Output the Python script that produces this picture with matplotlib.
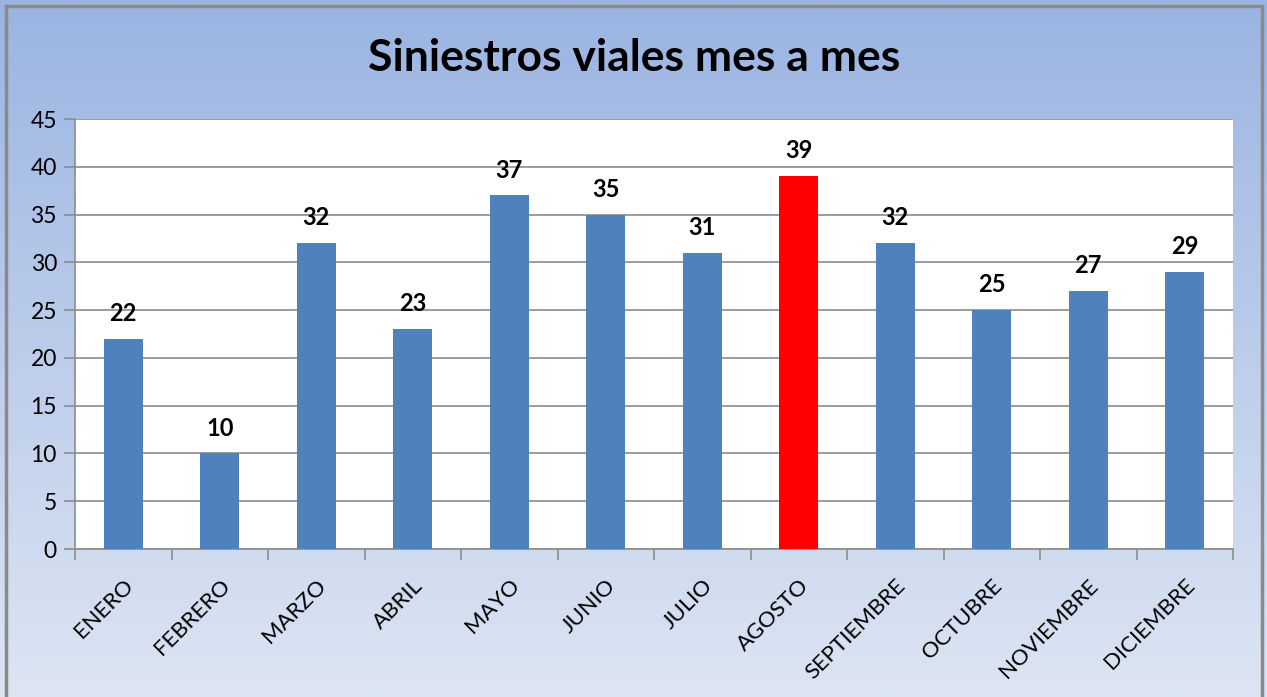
import matplotlib
matplotlib.use("Agg")
import matplotlib.pyplot as plt
import numpy as np
from matplotlib.colors import LinearSegmentedColormap
from matplotlib.patches import Rectangle

# data
meses = ["ENERO", "FEBRERO", "MARZO", "ABRIL", "MAYO", "JUNIO", "JULIO",
         "AGOSTO", "SEPTIEMBRE", "OCTUBRE", "NOVIEMBRE", "DICIEMBRE"]
siniestros = [22, 10, 32, 23, 37, 35, 31, 39, 32, 25, 27, 29]
destacado = "AGOSTO"

plt.rcParams['font.family'] = ['Lato', 'DejaVu Sans']

W, H = 1267, 697
fig = plt.figure(figsize=(W / 100, H / 100), dpi=100)

# background gradient
bg = fig.add_axes([0, 0, 1, 1], zorder=0)
cmap = LinearSegmentedColormap.from_list("bg", ["#9ab4e2", "#dde5f3"])
grad = np.linspace(0, 1, 256).reshape(-1, 1)
bg.imshow(grad, aspect="auto", cmap=cmap, extent=[0, 1, 0, 1], origin="upper")
bg.add_patch(Rectangle((6 / W, -0.01), (1262 - 6) / W, 1 - 6 / H + 0.01,
                       fill=False, edgecolor="#8a8a8a", linewidth=2.5,
                       transform=bg.transAxes))
bg.set_xlim(0, 1)
bg.set_ylim(0, 1)
bg.axis("off")

# plot area
left, right, top, bottom = 75, 1233, 119, 549
ax = fig.add_axes([left / W, 1 - bottom / H, (right - left) / W, (bottom - top) / H], zorder=1)
ax.set_facecolor("white")

x = np.arange(len(meses))
colores = ["#ff0000" if m == destacado else "#4f81bd" for m in meses]
ax.bar(x, siniestros, width=0.4, color=colores, zorder=3)

for xi, v in zip(x, siniestros):
    ax.annotate(str(v), (xi, v), xytext=(0, 10), textcoords="offset points",
                ha="center", va="bottom", fontsize=17, fontweight="bold")

ax.set_xlim(-0.5, len(meses) - 0.5)
ax.set_ylim(0, 45)
ax.set_yticks(range(0, 46, 5))
ax.yaxis.grid(True, color="#8c8c8c", linewidth=1.2, zorder=0)
ax.set_axisbelow(True)

ax.set_xticks(x)
ax.set_xticklabels(meses, rotation=45, ha="right", va="top", rotation_mode="anchor",
                   fontsize=16)
ax.tick_params(axis="x", length=0, pad=19)
ax.set_xticks(np.arange(-0.5, len(meses)), minor=True)
ax.tick_params(axis="x", which="minor", length=8, color="#8c8c8c", width=1.2)
ax.tick_params(axis="y", length=8, color="#8c8c8c", width=1.2, labelsize=16.5, pad=5)

for s in ["top", "right"]:
    ax.spines[s].set_visible(False)
for s in ["left", "bottom"]:
    ax.spines[s].set_color("#8c8c8c")
    ax.spines[s].set_linewidth(1.2)

fig.text(634 / W, 1 - 58 / H, "Siniestros viales mes a mes", ha="center", va="center",
         fontsize=32, fontweight="bold")

fig.savefig("out.png", dpi=100)
